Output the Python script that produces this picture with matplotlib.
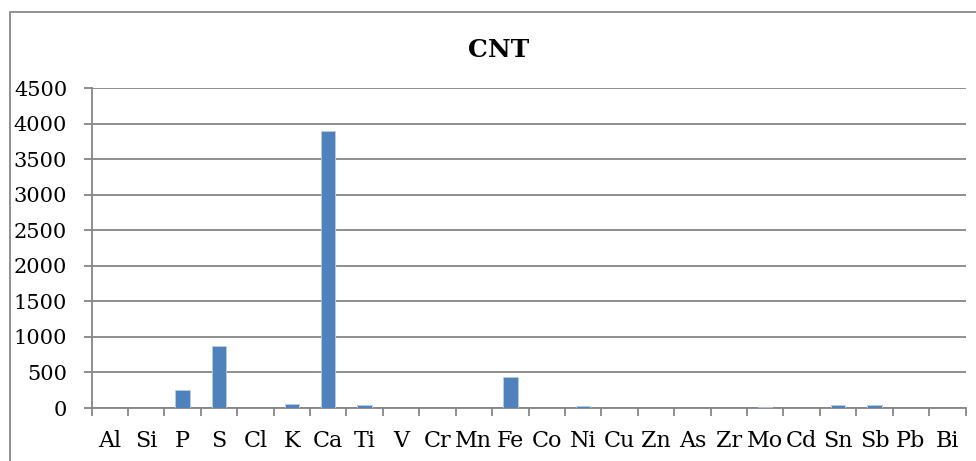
import numpy as np
import matplotlib.pyplot as plt
from matplotlib.patches import Rectangle

# Элементы и их содержание
elements = ['Al', 'Si', 'P', 'S', 'Cl', 'K', 'Ca', 'Ti', 'V', 'Cr', 'Mn', 'Fe',
            'Co', 'Ni', 'Cu', 'Zn', 'As', 'Zr', 'Mo', 'Cd', 'Sn', 'Sb', 'Pb', 'Bi']
values = [0, 0, 260, 870, 0, 55, 3900, 45, 0, 0, 0, 435,
          0, 28, 0, 0, 0, 0, 12, 0, 38, 38, 5, 0]
yticks = [0, 500, 1000, 1500, 2000, 2500, 3000, 3500, 4000, 4500]

plt.rcParams['font.family'] = ['DejaVu Serif']
W, H = 976, 461
fig = plt.figure(figsize=(W / 100, H / 100), dpi=100)

# Рамка диаграммы
fig.patches.append(Rectangle((9.5 / W, -0.1), (990 - 9.5) / W, 1.1 - 12.5 / H,
                             transform=fig.transFigure, fill=False,
                             edgecolor='#888888', linewidth=1.3))

ax = fig.add_axes([91.5 / W, 1 - 408 / H, (965.5 - 91.5) / W, 320 / H])
x = np.arange(len(elements))
ax.bar(x, values, width=0.4, color='#4F81BD', edgecolor='#B9CDE5',
       linewidth=0.6, zorder=3)

ax.set_xlim(-0.5, len(elements) - 0.5)
ax.set_ylim(0, 4500)
ax.set_yticks(yticks)
ax.set_yticklabels([str(v) for v in yticks])
ax.yaxis.grid(True, color='#868686', linewidth=1.3, zorder=0)
ax.set_axisbelow(True)

# Подписи по центру, засечки на границах категорий
ax.set_xticks(x)
ax.set_xticklabels(elements)
ax.set_xticks(np.arange(len(elements) + 1) - 0.5, minor=True)
ax.tick_params(axis='x', which='major', length=0, pad=16, labelsize=16)
ax.tick_params(axis='x', which='minor', length=6, width=1.3, color='#868686',
               direction='out')
ax.tick_params(axis='y', length=5.5, width=1.3, color='#868686', pad=12,
               labelsize=15)

for s in ['top', 'right']:
    ax.spines[s].set_visible(False)
for s in ['left', 'bottom']:
    ax.spines[s].set_color('#868686')
    ax.spines[s].set_linewidth(1.3)

fig.text(499 / W, 1 - 50 / H, 'CNT', ha='center', va='center',
         fontsize=18, fontweight='bold')

fig.savefig('out.png', dpi=100)
